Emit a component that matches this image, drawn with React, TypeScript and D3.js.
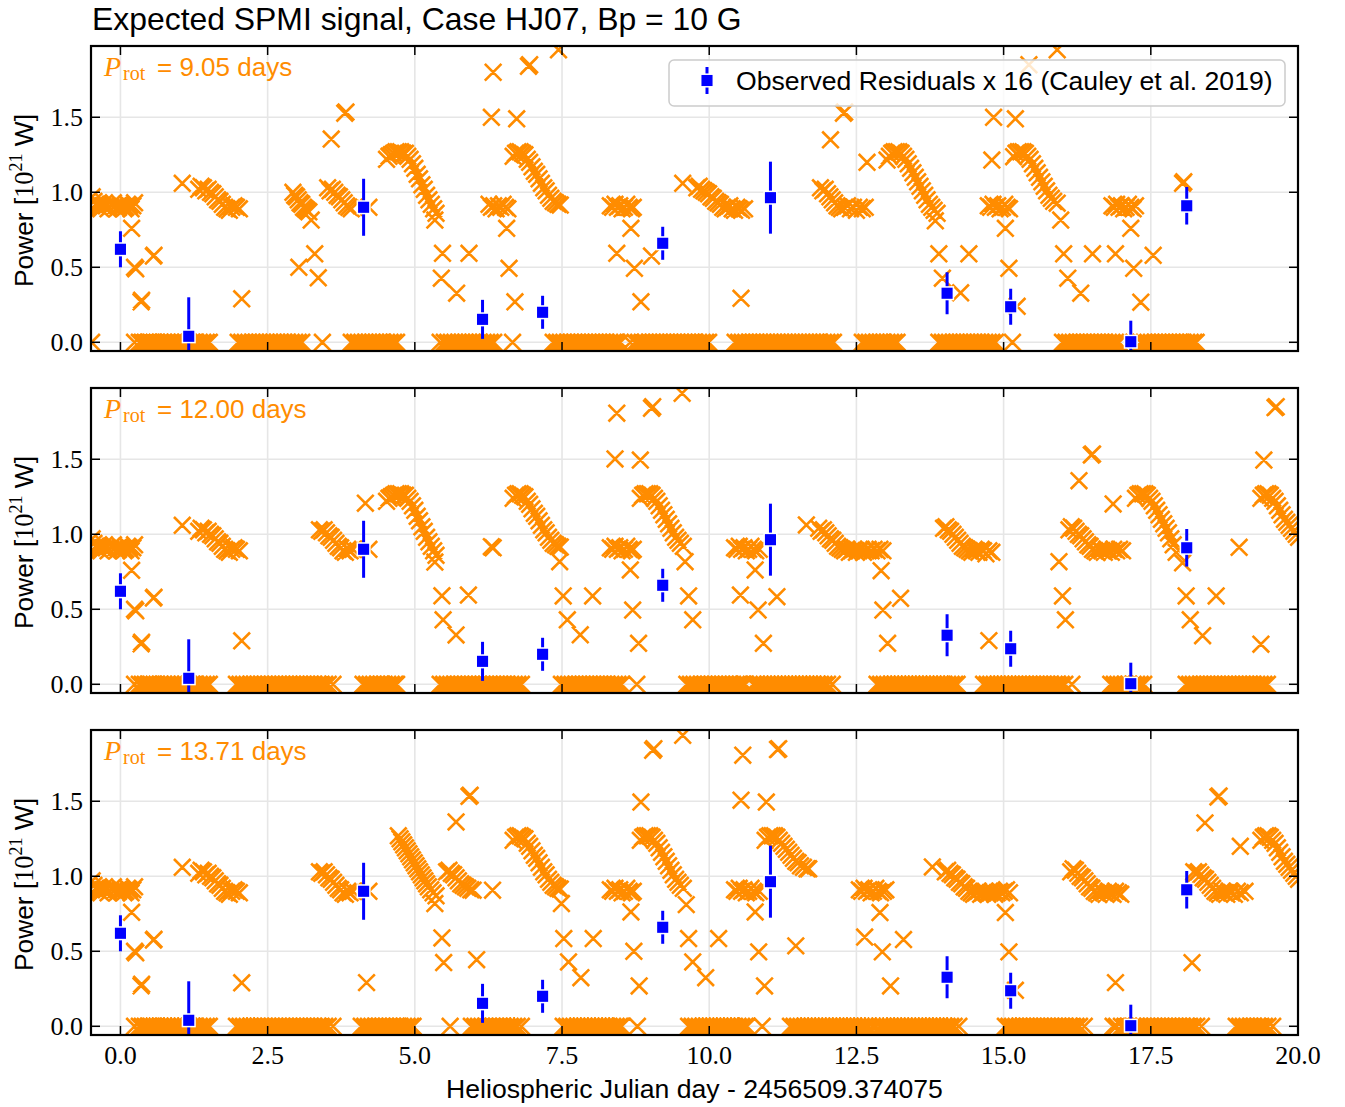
import React from 'react';
import * as d3 from 'd3';

type P = [number, number];

const xTicks = [0, 2.5, 5, 7.5, 10, 12.5, 15, 17.5, 20];
const yTicks = [0, 0.5, 1.0, 1.5];
const periods = ['9.05', '12.00', '13.71'];
const titleText = 'Expected SPMI signal, Case HJ07, Bp = 10 G';
const xLabelText = 'Heliospheric Julian day - 2456509.374075';
const legendLabel = 'Observed Residuals x 16 (Cauley et al. 2019)';

// Observed residuals (same in every panel)
const obsX = [0.0, 1.16, 4.13, 6.15, 7.17, 9.21, 11.04, 14.04, 15.12, 17.16, 18.11];
const obsY = [0.62, 0.04, 0.9, 0.153, 0.2, 0.66, 0.964, 0.327, 0.237, 0.004, 0.91];
const obsErr = [0.12, 0.26, 0.19, 0.13, 0.11, 0.11, 0.24, 0.14, 0.12, 0.14, 0.125];

// ---- model points shared by all panels ----
const commonPts: P[] = [
  [-0.48, 0.97], [-0.45, 0.94], [-0.42, 0.92], [-0.39, 0.91], [-0.36, 0.9], [-0.33, 0.89], [-0.3, 0.91], [-0.27, 0.93],
  [-0.24, 0.91], [-0.21, 0.89], [-0.18, 0.9], [-0.15, 0.92], [-0.12, 0.93], [-0.09, 0.91], [-0.06, 0.89], [-0.03, 0.9],
  [0.0, 0.92], [0.03, 0.91], [0.06, 0.89], [0.09, 0.9], [0.12, 0.92], [0.15, 0.91], [0.18, 0.89], [0.21, 0.91], [0.24, 0.93],
  [0.19, 0.76], [0.24, 0.5], [0.26, 0.49], [0.35, 0.27], [0.36, 0.28], [0.56, 0.575], [0.57, 0.58],
  [1.05, 1.06],
  [1.33, 1.02], [1.37, 1.04], [1.41, 1.03], [1.45, 1.01], [1.49, 1.02], [1.53, 1.0], [1.57, 0.99], [1.61, 0.97],
  [1.65, 0.95], [1.69, 0.94], [1.73, 0.92], [1.77, 0.9], [1.81, 0.89], [1.85, 0.88], [1.89, 0.9], [1.93, 0.91],
  [1.97, 0.9], [2.02, 0.89],
  [2.06, 0.29],
];
const commonZero = [0.24, 0.32, 0.37, 0.42, 0.47, 0.52, 0.57, 0.62, 0.68, 0.74, 0.8, 0.86, 0.92, 0.98, 1.04, 1.1, 1.16, 1.22, 1.28, 1.34, 1.4, 1.46, 1.51];

const arcA: P[] = [
  [4.52, 1.22], [4.56, 1.24], [4.6, 1.25], [4.64, 1.26], [4.68, 1.27], [4.72, 1.27], [4.76, 1.27], [4.8, 1.26],
  [4.84, 1.26], [4.88, 1.24], [4.92, 1.22], [4.96, 1.19], [5.0, 1.16], [5.04, 1.12], [5.08, 1.09], [5.12, 1.05],
  [5.16, 1.02], [5.2, 0.98], [5.24, 0.95], [5.28, 0.92], [5.32, 0.89], [5.36, 0.86],
];
const arcB: P[] = [
  [6.67, 1.24], [6.71, 1.26], [6.75, 1.27], [6.79, 1.27], [6.83, 1.26], [6.87, 1.25], [6.91, 1.22], [6.95, 1.2],
  [6.99, 1.17], [7.03, 1.14], [7.07, 1.12], [7.11, 1.09], [7.15, 1.06], [7.19, 1.03], [7.23, 1.01], [7.27, 0.98],
  [7.31, 0.96], [7.35, 0.94], [7.39, 0.93], [7.43, 0.92], [7.47, 0.915],
];
const arcE: P[] = [
  [8.83, 1.24], [8.87, 1.26], [8.91, 1.27], [8.95, 1.27], [8.99, 1.27], [9.03, 1.26], [9.07, 1.24], [9.11, 1.22],
  [9.15, 1.19], [9.19, 1.16], [9.23, 1.13], [9.27, 1.1], [9.31, 1.07], [9.35, 1.04], [9.39, 1.01], [9.43, 0.98],
  [9.47, 0.96], [9.51, 0.94], [9.56, 0.92],
];
const arcG: P[] = [
  [19.37, 1.24], [19.41, 1.26], [19.45, 1.27], [19.49, 1.27], [19.53, 1.26], [19.57, 1.24], [19.61, 1.22], [19.65, 1.19],
  [19.69, 1.16], [19.73, 1.13], [19.77, 1.1], [19.81, 1.08], [19.85, 1.06], [19.89, 1.04], [19.93, 1.02], [19.97, 1.0], [20.01, 0.98],
];
const cl836: P[] = [
  [8.32, 0.91], [8.36, 0.9], [8.4, 0.92], [8.44, 0.9], [8.48, 0.91], [8.52, 0.89], [8.56, 0.9], [8.6, 0.92], [8.64, 0.9], [8.68, 0.89], [8.71, 0.9],
];
const cl1043: P[] = [
  [10.43, 0.91], [10.47, 0.9], [10.51, 0.92], [10.55, 0.9], [10.59, 0.91], [10.63, 0.89], [10.67, 0.9], [10.71, 0.92],
  [10.75, 0.9], [10.79, 0.89], [10.85, 0.9],
];
const cl338: P[] = [
  [3.38, 1.03], [3.42, 1.02], [3.46, 1.03], [3.5, 1.01], [3.54, 0.99], [3.58, 0.98], [3.62, 0.96], [3.66, 0.94],
  [3.7, 0.92], [3.74, 0.91], [3.78, 0.89], [3.82, 0.88], [3.86, 0.9], [3.9, 0.89], [3.95, 0.9],
];
const zero197 = [1.97, 2.03, 2.09, 2.15, 2.21, 2.27, 2.33, 2.39, 2.45, 2.51, 2.57, 2.63, 2.69, 2.75, 2.81, 2.87, 2.93, 2.99, 3.05, 3.11, 3.17, 3.23, 3.29, 3.35, 3.41, 3.47, 3.53, 3.61];

// ---- panel 1 (Prot = 9.05 d) ----
const p1Pts: P[] = [
  [2.93, 1.0], [2.96, 0.98], [2.99, 0.97], [3.02, 0.95], [3.05, 0.93], [3.08, 0.92], [3.11, 0.9], [3.14, 0.89],
  [3.17, 0.88], [3.2, 0.87], [3.24, 0.815],
  [3.03, 0.5], [3.3, 0.59], [3.36, 0.43], [3.58, 1.355], [3.81, 1.527], [3.83, 1.535],
  [3.52, 1.03], [3.56, 1.01], [3.6, 1.02], [3.64, 1.0], [3.68, 0.98], [3.72, 0.97], [3.76, 0.95], [3.8, 0.93],
  [3.84, 0.91], [3.88, 0.9], [3.92, 0.89], [4.22, 0.9],
  [5.34, 0.815], [5.47, 0.593], [5.45, 0.427], [5.71, 0.327], [5.92, 0.593],
  [6.33, 1.8], [6.93, 1.84], [6.95, 1.85], [6.3, 1.5], [6.73, 1.49], [7.44, 1.95],
  [6.26, 0.92], [6.3, 0.9], [6.34, 0.91], [6.38, 0.89], [6.42, 0.91], [6.46, 0.9], [6.5, 0.92], [6.54, 0.9], [6.58, 0.89],
  [6.56, 0.76], [6.6, 0.493], [6.7, 0.27],
  [8.43, 0.593], [8.67, 0.76], [8.73, 0.493], [8.84, 0.27], [9.02, 0.575],
  [9.55, 1.06],
  [9.79, 1.03], [9.83, 1.04], [9.87, 1.02], [9.91, 1.01], [9.95, 1.0], [9.99, 0.99], [10.03, 0.97], [10.07, 0.96],
  [10.11, 0.94], [10.15, 0.93], [10.19, 0.92], [10.23, 0.9], [10.27, 0.89], [10.31, 0.9], [10.35, 0.91], [10.39, 0.89],
  [10.43, 0.88], [10.47, 0.9], [10.51, 0.89], [10.55, 0.88], [10.6, 0.89],
  [10.54, 0.293],
  [12.06, 1.35], [12.28, 1.527], [12.3, 1.535], [12.68, 1.2],
  [11.89, 1.03], [11.93, 1.01], [11.97, 1.02], [12.01, 0.99], [12.05, 0.97], [12.09, 0.95], [12.13, 0.93], [12.17, 0.91],
  [12.21, 0.9], [12.25, 0.89], [12.3, 0.9], [12.35, 0.91], [12.4, 0.89], [12.45, 0.9], [12.5, 0.88], [12.55, 0.9],
  [12.6, 0.89], [12.65, 0.9],
  [13.02, 1.215], [13.06, 1.24], [13.1, 1.26], [13.14, 1.27], [13.18, 1.27], [13.22, 1.27], [13.26, 1.26], [13.3, 1.24],
  [13.34, 1.22], [13.38, 1.19], [13.42, 1.16], [13.46, 1.13], [13.5, 1.1], [13.54, 1.07], [13.58, 1.04], [13.62, 1.01],
  [13.66, 0.98], [13.7, 0.95], [13.74, 0.92], [13.78, 0.9], [13.82, 0.88], [13.87, 0.86],
  [13.84, 0.81], [13.9, 0.59], [14.41, 0.59], [13.96, 0.427], [14.27, 0.33],
  [14.83, 1.5], [15.2, 1.49], [14.8, 1.215], [15.43, 1.85], [15.91, 1.95],
  [14.74, 0.91], [14.78, 0.9], [14.82, 0.92], [14.86, 0.9], [14.9, 0.91], [14.94, 0.89], [14.98, 0.9], [15.02, 0.92],
  [15.06, 0.9], [15.1, 0.89],
  [15.03, 0.76], [15.09, 0.493], [15.23, 0.24],
  [15.17, 1.237], [15.21, 1.26], [15.25, 1.27], [15.29, 1.27], [15.33, 1.27], [15.37, 1.26], [15.41, 1.24], [15.45, 1.22],
  [15.49, 1.19], [15.53, 1.16], [15.57, 1.13], [15.61, 1.1], [15.65, 1.07], [15.69, 1.04], [15.73, 1.01], [15.77, 0.98],
  [15.81, 0.96], [15.85, 0.94], [15.91, 0.927],
  [15.97, 0.815], [16.02, 0.59], [16.51, 0.59], [16.9, 0.59], [16.09, 0.427], [16.31, 0.327],
  [16.84, 0.91], [16.88, 0.9], [16.92, 0.92], [16.96, 0.9], [17.0, 0.91], [17.04, 0.89], [17.08, 0.9], [17.12, 0.92],
  [17.16, 0.9], [17.2, 0.89], [17.24, 0.91],
  [17.16, 0.76], [17.21, 0.493], [17.54, 0.58], [17.33, 0.267],
  [18.04, 1.06], [18.06, 1.07],
];
const p1Zero = [
  -0.49,
  2.0, 2.06, 2.12, 2.18, 2.24, 2.3, 2.36, 2.42, 2.48, 2.54, 2.6, 2.66, 2.72, 2.78, 2.84, 2.9, 2.96, 3.02, 3.08,
  3.43,
  3.92, 3.98, 4.04, 4.1, 4.16, 4.22, 4.28, 4.34, 4.4, 4.46, 4.52, 4.58, 4.64, 4.69,
  5.43, 5.5, 5.56, 5.62, 5.68, 5.74, 5.8, 5.86, 5.92, 5.98, 6.04, 6.1, 6.16, 6.22, 6.28, 6.34,
  6.66,
  7.35, 7.41, 7.47, 7.53, 7.59, 7.65, 7.71, 7.77, 7.83, 7.89, 7.95, 8.01, 8.07, 8.13, 8.19, 8.25, 8.31, 8.37, 8.43, 8.49,
  8.66, 8.74, 8.8, 8.86, 8.92, 8.98, 9.04, 9.1, 9.16, 9.22, 9.28, 9.34, 9.4, 9.46, 9.52, 9.58, 9.64, 9.7, 9.76, 9.82, 9.88, 9.94, 9.99,
  10.44, 10.5, 10.56, 10.62, 10.68, 10.74, 10.8, 10.86, 10.92, 10.98, 11.04, 11.1, 11.16, 11.22, 11.28, 11.34, 11.4,
  11.46, 11.52, 11.58, 11.64, 11.7, 11.76, 11.82, 11.88, 11.94, 12.0, 12.06, 12.11,
  12.6, 12.66, 12.72, 12.78, 12.84, 12.9, 12.96, 13.02, 13.08, 13.14, 13.19,
  13.9, 13.96, 14.02, 14.08, 14.14, 14.2, 14.26, 14.32, 14.38, 14.44, 14.5, 14.56, 14.62, 14.68, 14.74, 14.8, 14.86,
  15.15,
  16.0, 16.06, 16.12, 16.18, 16.24, 16.3, 16.36, 16.42, 16.48, 16.54, 16.6, 16.66, 16.72, 16.78, 16.84, 16.9, 16.96,
  17.33, 17.39, 17.45, 17.51, 17.57, 17.63, 17.69, 17.75, 17.81, 17.87, 17.93, 17.99, 18.05, 18.11, 18.17, 18.23, 18.27,
];

// ---- panel 2 (Prot = 12.00 d) ----
const p2Pts: P[] = [
  [4.16, 1.207], [4.22, 0.9],
  [5.34, 0.815], [5.46, 0.59], [5.48, 0.43], [5.7, 0.329], [5.91, 0.595], [6.3, 0.917], [6.33, 0.91],
  [7.46, 0.817], [7.52, 0.589], [8.02, 0.589], [7.59, 0.43], [7.81, 0.33],
  [8.43, 1.807], [9.02, 1.84], [9.04, 1.85], [9.54, 1.94], [8.4, 1.502], [8.83, 1.495],
  [8.66, 0.762], [8.7, 0.495], [8.8, 0.273],
  [9.59, 0.817], [9.65, 0.589], [9.72, 0.43],
  [10.53, 0.595],
  [10.78, 0.762], [10.83, 0.495], [11.15, 0.584], [10.92, 0.273],
  [11.65, 1.062],
  [11.86, 1.04], [11.9, 1.02], [11.94, 1.03], [11.98, 1.01], [12.02, 0.99], [12.06, 0.97], [12.1, 0.96], [12.14, 0.94],
  [12.18, 0.92], [12.22, 0.91], [12.26, 0.9], [12.3, 0.89], [12.34, 0.9], [12.38, 0.88], [12.42, 0.89], [12.46, 0.9],
  [12.5, 0.88], [12.54, 0.89], [12.58, 0.9], [12.62, 0.88], [12.66, 0.89], [12.7, 0.9], [12.75, 0.89], [12.8, 0.9],
  [12.85, 0.89], [12.9, 0.9], [12.95, 0.89],
  [12.92, 0.757], [12.95, 0.495], [13.03, 0.273], [13.25, 0.573],
  [13.98, 1.04], [14.02, 1.05], [14.06, 1.03], [14.1, 1.02], [14.14, 1.0], [14.18, 0.98], [14.22, 0.96], [14.26, 0.94],
  [14.3, 0.92], [14.34, 0.91], [14.38, 0.9], [14.42, 0.89], [14.46, 0.88], [14.5, 0.9], [14.54, 0.89], [14.58, 0.88],
  [14.62, 0.9], [14.66, 0.89], [14.7, 0.87], [14.75, 0.89], [14.8, 0.88],
  [14.75, 0.291],
  [15.94, 0.817], [16.0, 0.589], [16.05, 0.43], [16.28, 1.357], [16.49, 1.529], [16.51, 1.535], [16.86, 1.202],
  [16.11, 1.03], [16.15, 1.05], [16.19, 1.04], [16.23, 1.02], [16.27, 1.0], [16.31, 0.99], [16.35, 0.97], [16.39, 0.95],
  [16.43, 0.93], [16.47, 0.92], [16.51, 0.9], [16.55, 0.89], [16.59, 0.88], [16.63, 0.9], [16.67, 0.89], [16.71, 0.88],
  [16.75, 0.9], [16.79, 0.89], [16.83, 0.88], [16.87, 0.9], [16.92, 0.89], [16.97, 0.9], [17.02, 0.89],
  [17.24, 1.24], [17.28, 1.26], [17.32, 1.27], [17.36, 1.27], [17.4, 1.27], [17.44, 1.26], [17.48, 1.24], [17.52, 1.22],
  [17.56, 1.19], [17.6, 1.16], [17.64, 1.13], [17.68, 1.1], [17.72, 1.07], [17.76, 1.04], [17.8, 1.01], [17.84, 0.97],
  [17.88, 0.93], [17.93, 0.88],
  [18.04, 0.81], [18.1, 0.589], [18.61, 0.589], [18.17, 0.43], [18.38, 0.324], [19.0, 0.913], [19.42, 1.495],
  [19.61, 1.844], [19.63, 1.85], [19.37, 0.267],
];
const p2Zero = [
  4.12, 4.18, 4.24, 4.3, 4.36, 4.42, 4.48, 4.54, 4.6, 4.66, 4.69,
  5.43, 5.49, 5.55, 5.61, 5.67, 5.73, 5.79, 5.85, 5.91, 5.97, 6.03, 6.09, 6.15, 6.21, 6.27, 6.33, 6.39, 6.45, 6.51,
  6.57, 6.63, 6.69, 6.75, 6.81,
  7.49, 7.55, 7.61, 7.67, 7.73, 7.79, 7.85, 7.91, 7.97, 8.03, 8.09, 8.15, 8.21, 8.27, 8.33, 8.39, 8.45, 8.51,
  8.77,
  9.62, 9.68, 9.74, 9.8, 9.86, 9.92, 9.98, 10.04, 10.1, 10.16, 10.22, 10.28, 10.34, 10.4, 10.46, 10.52, 10.58, 10.61,
  10.75, 10.81, 10.87, 10.93, 10.99, 11.05, 11.11, 11.17, 11.23, 11.29, 11.35, 11.41, 11.47, 11.53, 11.59, 11.65,
  11.71, 11.77, 11.83, 11.89, 11.95, 12.01, 12.09,
  12.85, 12.91, 12.97, 13.03, 13.09, 13.15, 13.21, 13.27, 13.33, 13.39, 13.45, 13.51, 13.57, 13.63, 13.69, 13.75,
  13.81, 13.87, 13.93, 13.99, 14.05, 14.11, 14.17, 14.21,
  14.66, 14.72, 14.78, 14.84, 14.9, 14.96, 15.02, 15.08, 15.14, 15.2, 15.26, 15.32, 15.38, 15.44, 15.5, 15.56,
  15.62, 15.68, 15.74, 15.8, 15.86, 15.92, 15.98, 16.04, 16.16,
  16.82, 16.88, 16.94, 17.0, 17.06, 17.12, 17.2, 17.26, 17.32, 17.38,
  18.1, 18.16, 18.22, 18.28, 18.34, 18.4, 18.46, 18.52, 18.58, 18.64, 18.7, 18.76, 18.82, 18.88, 18.94, 19.0,
  19.06, 19.12, 19.18, 19.24, 19.3, 19.36, 19.42, 19.48,
];

// ---- panel 3 (Prot = 13.71 d) ----
const p3Pts: P[] = [
  [4.18, 0.291], [4.22, 0.9],
  [4.72, 1.27], [4.75, 1.25], [4.78, 1.23], [4.81, 1.21], [4.84, 1.19], [4.87, 1.17], [4.9, 1.15], [4.93, 1.13],
  [4.96, 1.11], [4.99, 1.09], [5.02, 1.07], [5.05, 1.05], [5.08, 1.03], [5.11, 1.01], [5.14, 0.99], [5.17, 0.97],
  [5.2, 0.95], [5.23, 0.93], [5.27, 0.91], [5.31, 0.89], [5.36, 0.87],
  [5.34, 0.818], [5.46, 0.589], [5.49, 0.425], [5.7, 1.362], [5.92, 1.533], [5.94, 1.54],
  [5.54, 1.03], [5.58, 1.04], [5.62, 1.02], [5.66, 1.01], [5.7, 0.99], [5.74, 0.97], [5.78, 0.95], [5.82, 0.94],
  [5.86, 0.93], [5.9, 0.92], [5.95, 0.91], [5.99, 0.907],
  [6.32, 0.907], [6.05, 0.444],
  [7.49, 0.818], [7.53, 0.585], [8.03, 0.585], [7.61, 0.429], [7.82, 0.324],
  [9.04, 1.84], [9.06, 1.85], [9.55, 1.94], [8.84, 1.495],
  [8.67, 0.762], [8.72, 0.5], [8.81, 0.269],
  [9.61, 0.811], [9.65, 0.585], [10.16, 0.585], [9.72, 0.429], [9.94, 0.324],
  [10.57, 1.807], [11.16, 1.845], [11.18, 1.85], [10.54, 1.507], [10.97, 1.495],
  [10.78, 0.762], [10.84, 0.496], [10.94, 0.269], [11.47, 0.536],
  [10.95, 1.24], [10.99, 1.26], [11.03, 1.27], [11.07, 1.27], [11.11, 1.27], [11.15, 1.26], [11.19, 1.24], [11.23, 1.22],
  [11.27, 1.2], [11.31, 1.18], [11.35, 1.16], [11.39, 1.14], [11.43, 1.12], [11.47, 1.1], [11.51, 1.09], [11.55, 1.07],
  [11.6, 1.06], [11.66, 1.05], [11.69, 1.05],
  [12.64, 0.595],
  [12.55, 0.91], [12.59, 0.9], [12.63, 0.92], [12.67, 0.9], [12.71, 0.91], [12.75, 0.89], [12.79, 0.9], [12.83, 0.92],
  [12.87, 0.9], [12.91, 0.89], [12.96, 0.9], [13.0, 0.91],
  [12.9, 0.758], [12.94, 0.496], [13.08, 0.269], [13.3, 0.578],
  [13.79, 1.062],
  [14.01, 1.03], [14.05, 1.04], [14.09, 1.02], [14.13, 1.01], [14.17, 0.99], [14.21, 0.98], [14.25, 0.96], [14.29, 0.95],
  [14.33, 0.93], [14.37, 0.92], [14.41, 0.9], [14.45, 0.89], [14.49, 0.88], [14.53, 0.89], [14.57, 0.9], [14.61, 0.88],
  [14.65, 0.89], [14.69, 0.9], [14.73, 0.88], [14.77, 0.89], [14.81, 0.9], [14.85, 0.88], [14.89, 0.89], [14.93, 0.9],
  [14.97, 0.89], [15.01, 0.9], [15.05, 0.91], [15.1, 0.89],
  [15.03, 0.758], [15.09, 0.496], [15.2, 0.24],
  [16.14, 1.03], [16.18, 1.05], [16.22, 1.04], [16.26, 1.02], [16.3, 1.0], [16.34, 0.99], [16.38, 0.97], [16.42, 0.95],
  [16.46, 0.93], [16.5, 0.92], [16.54, 0.9], [16.58, 0.89], [16.62, 0.88], [16.66, 0.9], [16.7, 0.89], [16.74, 0.88],
  [16.78, 0.9], [16.82, 0.89], [16.86, 0.88], [16.9, 0.9], [16.95, 0.89], [16.99, 0.88],
  [16.9, 0.291],
  [18.2, 0.424], [18.42, 1.356], [18.64, 1.529], [18.66, 1.535], [19.02, 1.2],
  [18.23, 1.03], [18.27, 1.02], [18.31, 1.03], [18.35, 1.01], [18.39, 0.99], [18.43, 0.98], [18.47, 0.96], [18.51, 0.94],
  [18.55, 0.92], [18.59, 0.9], [18.63, 0.89], [18.67, 0.88], [18.71, 0.9], [18.75, 0.89], [18.79, 0.88], [18.83, 0.9],
  [18.87, 0.89], [18.92, 0.88], [18.97, 0.9], [19.02, 0.89], [19.1, 0.9],
];
const p3Zero = [
  4.09, 4.15, 4.21, 4.27, 4.33, 4.39, 4.45, 4.51, 4.57, 4.63, 4.69, 4.75, 4.81, 4.87, 4.93, 4.97,
  5.6,
  5.96, 6.02, 6.08, 6.14, 6.2, 6.26, 6.32, 6.38, 6.44, 6.5, 6.56, 6.62, 6.68, 6.74, 6.81,
  7.52, 7.58, 7.64, 7.7, 7.76, 7.82, 7.88, 7.94, 8.0, 8.06, 8.12, 8.18, 8.24, 8.3, 8.36, 8.42, 8.48, 8.51,
  8.78,
  9.65, 9.71, 9.77, 9.83, 9.89, 9.95, 10.01, 10.07, 10.13, 10.19, 10.25, 10.31, 10.37, 10.43, 10.49, 10.55, 10.61, 10.64,
  10.9,
  11.38, 11.44, 11.5, 11.56, 11.62, 11.68, 11.74, 11.8, 11.86, 11.92, 11.98, 12.04, 12.1, 12.16, 12.22, 12.28, 12.34,
  12.4, 12.46, 12.52, 12.58, 12.64, 12.7, 12.77, 12.83,
  12.9, 12.96, 13.02, 13.08, 13.14, 13.2, 13.26, 13.32, 13.38, 13.44, 13.5, 13.56, 13.62, 13.68, 13.74, 13.8, 13.86,
  13.92, 13.98, 14.04, 14.1, 14.16, 14.24,
  15.03, 15.09, 15.15, 15.21, 15.27, 15.33, 15.39, 15.45, 15.51, 15.57, 15.63, 15.69, 15.75, 15.81, 15.87, 15.93,
  15.99, 16.05, 16.11, 16.17, 16.23, 16.29, 16.37,
  16.86, 16.92, 17.0, 17.06, 17.12, 17.2, 17.26, 17.32, 17.38, 17.44, 17.5, 17.56, 17.62, 17.68, 17.74, 17.8, 17.86,
  17.92, 17.98, 18.04, 18.1, 18.16, 18.22, 18.28, 18.36,
  18.95, 19.01, 19.07, 19.13, 19.19, 19.25, 19.31, 19.37, 19.43, 19.49, 19.57,
];

const panels = [
  { period: periods[0], pts: [...commonPts, ...arcA, ...arcB, ...cl836, ...p1Pts], zeros: [...commonZero, ...p1Zero] },
  { period: periods[1], pts: [...commonPts, ...cl338, ...arcA, ...arcB, ...cl836, ...arcE, ...cl1043, ...arcG, ...p2Pts], zeros: [...commonZero, ...zero197, ...p2Zero] },
  { period: periods[2], pts: [...commonPts, ...cl338, ...arcB, ...cl836, ...arcE, ...cl1043, ...arcG, ...p3Pts], zeros: [...commonZero, ...zero197, ...p3Zero] },
];

const ORANGE = '#ff8c00';
const BLUE = '#0000ff';
const SANS = "'Liberation Sans', Arial, Helvetica, sans-serif";
const SERIF = "'Liberation Serif', 'Times New Roman', serif";

export default function App() {
  const W = 1345, H = 1107;
  const left = 91, right = 1298;
  const tops = [46, 388, 730];
  const ph = 305;
  const xs = d3.scaleLinear().domain([-0.5, 20]).range([left, right]);
  const fmt = d3.format('.1f');
  const h = 8.3;
  const xPath = (pts: P[], ys: d3.ScaleLinear<number, number>) =>
    pts.map(([a, b]) => {
      const cx = xs(a), cy = ys(b);
      return `M${cx - h},${cy - h}L${cx + h},${cy + h}M${cx - h},${cy + h}L${cx + h},${cy - h}`;
    }).join('');

  return (
    <svg width={W} height={H} viewBox={`0 0 ${W} ${H}`} style={{ position: 'absolute', left: 0, top: 0, background: '#fff' }}>
      <rect x={0} y={0} width={W} height={H} fill="#fff" />
      <defs>
        {tops.map((t, i) => (
          <clipPath id={`clip${i}`} key={i}>
            <rect x={left} y={t} width={right - left} height={ph} />
          </clipPath>
        ))}
      </defs>
      <text x={92} y={30} fontFamily={SANS} fontSize={31.9} fill="#000">{titleText}</text>
      {panels.map((pn, i) => {
        const top = tops[i];
        const ys = d3.scaleLinear().domain([-0.058, 1.975]).range([top + ph, top]);
        const allPts: P[] = [...pn.pts, ...pn.zeros.map((z) => [z, 0] as P)];
        const cy = top + ph / 2;
        return (
          <g key={i}>
            <g stroke="#e6e6e6" strokeWidth={1.6}>
              {xTicks.map((t) => <line key={`gx${t}`} x1={xs(t)} x2={xs(t)} y1={top} y2={top + ph} />)}
              {yTicks.map((t) => <line key={`gy${t}`} x1={left} x2={right} y1={ys(t)} y2={ys(t)} />)}
            </g>
            <g clipPath={`url(#clip${i})`}>
              <path d={xPath(allPts, ys)} stroke={ORANGE} strokeWidth={2.6} fill="none" />
              {obsX.map((ox, k) => (
                <g key={k}>
                  <line x1={xs(ox)} x2={xs(ox)} y1={ys(obsY[k] - obsErr[k])} y2={ys(obsY[k] + obsErr[k])} stroke={BLUE} strokeWidth={3} />
                  <rect x={xs(ox) - 6.3} y={ys(obsY[k]) - 6.3} width={12.6} height={12.6} fill={BLUE} stroke="#fff" strokeWidth={1.5} />
                </g>
              ))}
            </g>
            <g stroke="#000" strokeWidth={1.5}>
              {xTicks.map((t) => (
                <g key={`tx${t}`}>
                  <line x1={xs(t)} x2={xs(t)} y1={top + ph} y2={top + ph - 9} />
                  <line x1={xs(t)} x2={xs(t)} y1={top} y2={top + 9} />
                </g>
              ))}
              {yTicks.map((t) => (
                <g key={`ty${t}`}>
                  <line x1={left} x2={left + 9} y1={ys(t)} y2={ys(t)} />
                  <line x1={right} x2={right - 9} y1={ys(t)} y2={ys(t)} />
                </g>
              ))}
            </g>
            <rect x={left} y={top} width={right - left} height={ph} fill="none" stroke="#000" strokeWidth={2.2} />
            {yTicks.map((t) => (
              <text key={`yl${t}`} x={83} y={ys(t) + 9} textAnchor="end" fontFamily={SERIF} fontSize={26} fill="#000">{fmt(t)}</text>
            ))}
            {i === 2 && xTicks.map((t) => (
              <text key={`xl${t}`} x={xs(t)} y={1064} textAnchor="middle" fontFamily={SERIF} fontSize={26} fill="#000">{fmt(t)}</text>
            ))}
            <text transform={`translate(33,${cy + 2}) rotate(-90)`} textAnchor="middle" fontFamily={SANS} fontSize={26.3} fill="#000">
              <tspan>Power [</tspan>
              <tspan fontFamily={SERIF}>10</tspan>
              <tspan fontFamily={SERIF} fontSize={18} dy={-11}>21</tspan>
              <tspan dy={11}>{'\u00a0W]'}</tspan>
            </text>
            <text x={104} y={top + 30} fontFamily={SERIF} fontStyle="italic" fontSize={28} fill={ORANGE}>P</text>
            <text x={123} y={top + 34} fontFamily={SERIF} fontSize={20} fill={ORANGE}>rot</text>
            <text x={157} y={top + 30} fontFamily={SANS} fontSize={26} fill={ORANGE}>{`= ${pn.period} days`}</text>
            {i === 0 && (
              <g>
                <rect x={669} y={60} width={616} height={46} rx={5} fill="#fff" fillOpacity={0.8} stroke="#cccccc" strokeWidth={1.5} />
                <line x1={707} x2={707} y1={67} y2={94} stroke={BLUE} strokeWidth={3} />
                <rect x={707 - 6.3} y={80.5 - 6.3} width={12.6} height={12.6} fill={BLUE} stroke="#fff" strokeWidth={1.5} />
                <text x={736} y={90} fontFamily={SANS} fontSize={26.6} fill="#000">{legendLabel}</text>
              </g>
            )}
          </g>
        );
      })}
      <text x={(left + right) / 2} y={1098} textAnchor="middle" fontFamily={SANS} fontSize={26.6} fill="#000">{xLabelText}</text>
    </svg>
  );
}
